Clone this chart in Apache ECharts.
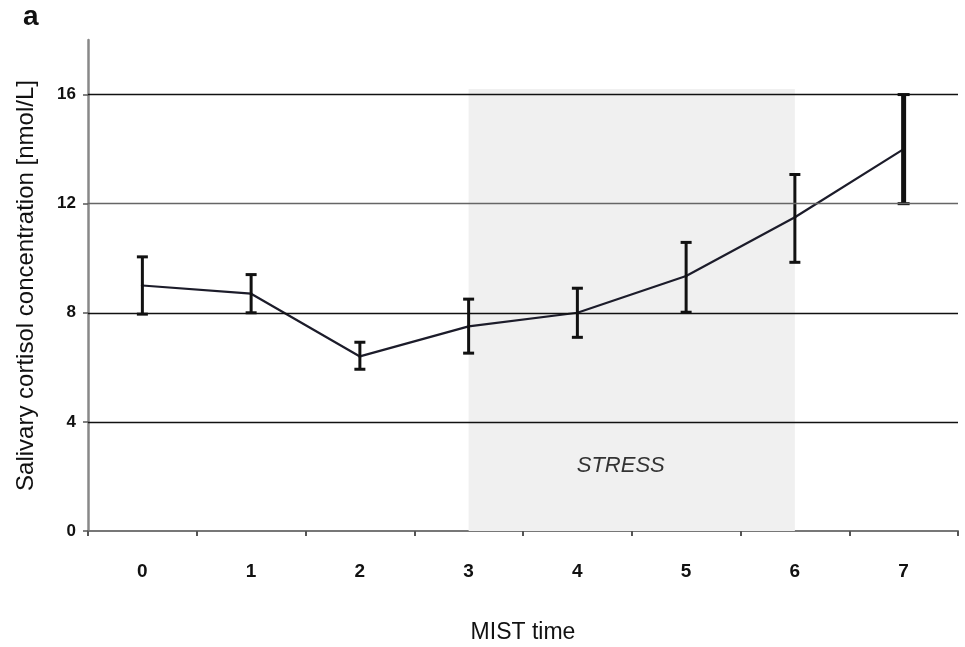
<!DOCTYPE html>
<html>
<head>
<meta charset="utf-8">
<script src="https://cdn.jsdelivr.net/npm/echarts@6/dist/echarts.min.js"></script>
<style>html,body{margin:0;padding:0;background:#fff}#c{width:965px;height:647px}</style>
</head>
<body>
<div id="c"></div>
<script>
const categories = ['0','1','2','3','4','5','6','7'];
const meanValues = [9.0, 8.7, 6.4, 7.5, 8.0, 9.35, 11.5, 14.0];
const lowValues  = [7.95, 8.0, 5.93, 6.52, 7.1, 8.02, 9.85, 12.0];
const highValues = [10.05, 9.4, 6.92, 8.5, 8.9, 10.58, 13.07, 16.0];
const yTicks = [0, 4, 8, 12, 16];
const stressStart = '3';
const stressEnd = '6';
const stressTop = 16.2;

const chart = echarts.init(document.getElementById('c'), null, {renderer: 'canvas'});
const errData = categories.map((c, i) => [i, lowValues[i], highValues[i]]);
const font = '"Liberation Sans", Arial, sans-serif';

chart.setOption({
  animation: false,
  backgroundColor: '#fff',
  title: {text: 'a', left: 18, top: -2, textStyle: {fontFamily: font, fontWeight: 'bold', fontSize: 28, color: '#111'}},
  grid: {left: 88, right: 7, top: 40, bottom: 116, containLabel: false, outerBoundsMode: 'none'},
  xAxis: {
    type: 'category', data: categories, boundaryGap: true,
    name: 'MIST time', nameLocation: 'middle', nameGap: 90,
    nameTextStyle: {fontFamily: font, fontSize: 23, color: '#111'},
    axisLine: {lineStyle: {color: '#777', width: 2}},
    axisTick: {show: true, inside: false, length: 5, lineStyle: {color: '#555', width: 2}},
    axisLabel: {fontFamily: font, fontWeight: 'bold', fontSize: 19, color: '#111', margin: 31},
    splitLine: {show: false}
  },
  yAxis: {
    type: 'value', min: 0, max: 18, interval: 4,
    name: 'Salivary cortisol concentration [nmol/L]', nameLocation: 'middle', nameGap: 50,
    nameTextStyle: {fontFamily: font, fontSize: 24, color: '#111'},
    axisLine: {show: true, lineStyle: {color: '#888', width: 2.5}},
    axisTick: {show: true, length: 5, lineStyle: {color: '#555', width: 1.5}, customValues: yTicks},
    axisLabel: {fontFamily: font, fontWeight: 'bold', fontSize: 17, color: '#111', margin: 12, customValues: yTicks},
    splitLine: {show: false}
  },
  series: [
    {
      type: 'line', data: meanValues, z: 3,
      symbol: 'circle', symbolSize: 3,
      itemStyle: {color: '#3a3a66'},
      lineStyle: {color: '#1c1c2a', width: 2.2},
      markArea: {
        silent: true,
        itemStyle: {color: '#f0f0f0'},
        label: {show: true, position: 'insideBottom', distance: 54, offset: [-11, 0], formatter: 'STRESS',
          fontFamily: font, fontStyle: 'italic', fontSize: 22, color: '#333'},
        data: [[{xAxis: stressStart, yAxis: 0}, {xAxis: stressEnd, yAxis: stressTop}]]
      },
      markLine: {
        silent: true, symbol: 'none', label: {show: false},
        data: yTicks.filter(v => v > 0).map(v => ({yAxis: v, lineStyle: {color: v === 12 ? '#666' : '#111', width: 1.3, type: 'solid'}}))
      }
    },
    {
      type: 'custom', z: 4,
      data: errData,
      renderItem: function (params, api) {
        const x = api.value(0);
        const lo = api.coord([x, api.value(1)]);
        const hi = api.coord([x, api.value(2)]);
        const w = params.dataIndex === 7 ? 5 : 3;
        const cap = params.dataIndex === 7 ? 6 : 5.5;
        const style = {stroke: '#111', lineWidth: w};
        return {
          type: 'group',
          children: [
            {type: 'line', shape: {x1: lo[0], y1: lo[1], x2: hi[0], y2: hi[1]}, style: style},
            {type: 'line', shape: {x1: lo[0] - cap, y1: lo[1], x2: lo[0] + cap, y2: lo[1]}, style: {stroke: '#111', lineWidth: 3}},
            {type: 'line', shape: {x1: hi[0] - cap, y1: hi[1], x2: hi[0] + cap, y2: hi[1]}, style: {stroke: '#111', lineWidth: 3}}
          ]
        };
      }
    }
  ]
});
</script>
</body>
</html>
